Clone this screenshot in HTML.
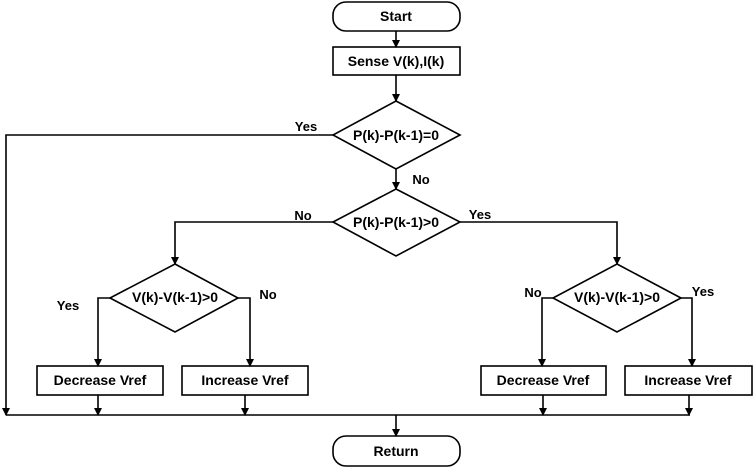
<!DOCTYPE html>
<html><head><meta charset="utf-8"><style>
html,body{margin:0;padding:0;background:#fff;}
svg{display:block;}
text{font-family:"Liberation Sans",sans-serif;font-weight:bold;font-size:13px;fill:#000;}
.n{font-size:14px;}
</style></head><body>
<svg width="753" height="468" viewBox="0 0 753 468" xmlns="http://www.w3.org/2000/svg">
<defs><marker id="a" markerWidth="8" markerHeight="8" refX="7" refY="4" orient="auto" markerUnits="userSpaceOnUse"><path d="M0,0 L8,4 L0,8 z" fill="#000"/></marker></defs>
<g fill="none" stroke="#000" stroke-width="1.6">
<rect x="333" y="2" width="127" height="29" rx="13"/>
<rect x="333" y="47" width="127" height="28"/>
<polygon points="396,101 460,135 396,169 333,135"/>
<polygon points="396,189 460,222 396,256 333,222"/>
<polygon points="175,264 238,298 175,332 110,298"/>
<polygon points="617,264 681,298 617,332 553,298"/>
<rect x="37" y="366" width="126" height="29"/>
<rect x="182" y="366" width="126" height="29"/>
<rect x="481" y="366" width="125" height="29"/>
<rect x="625" y="366" width="127" height="29"/>
<rect x="333" y="436" width="127" height="30" rx="13"/>
<path d="M396,31 V47" marker-end="url(#a)"/>
<path d="M396,75 V101" marker-end="url(#a)"/>
<path d="M396,169 V189" marker-end="url(#a)"/>
<path d="M333,135 H6 V415" marker-end="url(#a)"/>
<path d="M333,222 H175 V264" marker-end="url(#a)"/>
<path d="M460,222 H617 V264" marker-end="url(#a)"/>
<path d="M110,298 H98 V366" marker-end="url(#a)"/>
<path d="M238,298 H250 V366" marker-end="url(#a)"/>
<path d="M553,298 H542 V366" marker-end="url(#a)"/>
<path d="M681,298 H692 V366" marker-end="url(#a)"/>
<path d="M6,415 H690"/>
<path d="M98,395 V415" marker-end="url(#a)"/>
<path d="M245,395 V415" marker-end="url(#a)"/>
<path d="M543,395 V415" marker-end="url(#a)"/>
<path d="M689,395 V415" marker-end="url(#a)"/>
<path d="M396,415 V436" marker-end="url(#a)"/>
</g>
<g text-anchor="middle">
<text class="n" x="396" y="21">Start</text>
<text class="n" x="396" y="66">Sense V(k),I(k)</text>
<text class="n" x="396" y="140">P(k)-P(k-1)=0</text>
<text class="n" x="396" y="227">P(k)-P(k-1)&gt;0</text>
<text class="n" x="175" y="302">V(k)-V(k-1)&gt;0</text>
<text class="n" x="617" y="302">V(k)-V(k-1)&gt;0</text>
<text class="n" x="100" y="385">Decrease Vref</text>
<text class="n" x="245" y="385">Increase Vref</text>
<text class="n" x="543" y="385">Decrease Vref</text>
<text class="n" x="688" y="385">Increase Vref</text>
<text class="n" x="396" y="456">Return</text>
<text x="306" y="131">Yes</text>
<text x="421" y="184">No</text>
<text x="303" y="220">No</text>
<text x="480" y="219">Yes</text>
<text x="68" y="310">Yes</text>
<text x="268" y="299">No</text>
<text x="533" y="297">No</text>
<text x="703" y="296">Yes</text>
</g>
</svg>
</body></html>
